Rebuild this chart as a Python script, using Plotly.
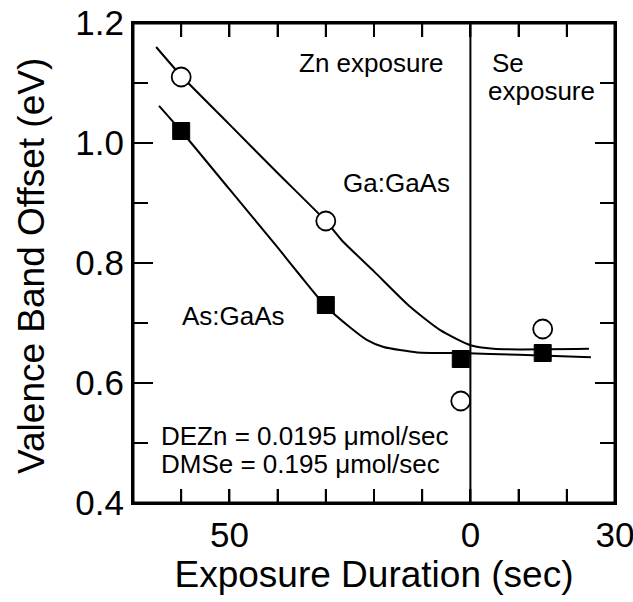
import plotly.graph_objects as go

# Measured data (x < 0 : Zn exposure, plotted reversed; x > 0 : Se exposure)
ga_x = [-60, -30, -2, 15]
ga_y = [1.11, 0.87, 0.57, 0.69]
as_x = [-60, -30, -2, 15]
as_y = [1.02, 0.73, 0.64, 0.65]

# Fit curves
ga_fit_x = [-65.2, -60, -50, -40, -30, -26.7, -20, -12.5, -6.25, 0, 4.8, 10, 24.6]
ga_fit_y = [1.16, 1.112, 1.031, 0.95, 0.87, 0.838, 0.786, 0.727, 0.688, 0.663, 0.657, 0.656, 0.657]
as_fit_x = [-64.6, -60, -50, -40, -35.4, -30, -25, -21.5, -18, -11, -2, 10, 25]
as_fit_y = [1.062, 1.02, 0.923, 0.826, 0.78, 0.728, 0.693, 0.672, 0.66, 0.651, 0.65, 0.647, 0.643]

x_tickvals = [-70, -60, -50, -40, -30, -20, -10, 0, 10, 20, 30]
x_ticktext = ["", "", "50", "", "", "", "", "0", "", "", "30"]
y_major = [0.4, 0.6, 0.8, 1.0, 1.2]
y_minor = [0.5, 0.7, 0.9, 1.1]
y_ticktext = ["0.4", "0.6", "0.8", "1.0", "1.2"]
x_range = [-70, 30]
y_range = [0.4, 1.2]

FONT = "Liberation Sans, Arial, sans-serif"
W, H = 633, 602
ML, MR, MT, MB = 133, 18, 23, 99
PW, PH = W - ML - MR, H - MT - MB
xu = (x_range[1] - x_range[0]) / PW   # data units per pixel
yu = (y_range[1] - y_range[0]) / PH

fig = go.Figure()

# Frame and inside ticks drawn as a line trace (built from the tick lists)
fx, fy = [], []
for v in x_tickvals:
    fx += [v, v, None, v, v, None]
    fy += [y_range[0], y_range[0] + 14 * yu, None, y_range[1], y_range[1] - 14 * yu, None]
for vals, ln in ((y_major, 20), (y_minor, 15)):
    for v in vals:
        fx += [x_range[0], x_range[0] + ln * xu, None, x_range[1], x_range[1] - ln * xu, None]
        fy += [v, v, None, v, v, None]
fig.add_trace(go.Scatter(x=fx, y=fy, mode="lines", line=dict(color="black", width=2),
                         showlegend=False, hoverinfo="skip", connectgaps=False))
fig.add_trace(go.Scatter(x=[x_range[0], x_range[1], x_range[1], x_range[0], x_range[0]],
                         y=[y_range[0], y_range[0], y_range[1], y_range[1], y_range[0]],
                         mode="lines", line=dict(color="black", width=3),
                         showlegend=False, hoverinfo="skip"))

fig.add_trace(go.Scatter(x=ga_fit_x, y=ga_fit_y, mode="lines",
                         line=dict(color="black", width=2, shape="spline", smoothing=0.6),
                         showlegend=False, hoverinfo="skip"))
fig.add_trace(go.Scatter(x=as_fit_x, y=as_fit_y, mode="lines",
                         line=dict(color="black", width=2, shape="spline", smoothing=0.6),
                         showlegend=False, hoverinfo="skip"))
fig.add_trace(go.Scatter(x=ga_x, y=ga_y, mode="markers", name="Ga:GaAs",
                         marker=dict(symbol="circle", size=19, color="white",
                                     line=dict(color="black", width=1.8)),
                         showlegend=False))
fig.add_trace(go.Scatter(x=as_x, y=as_y, mode="markers", name="As:GaAs",
                         marker=dict(symbol="square", size=17, color="black",
                                     line=dict(color="black", width=1)),
                         showlegend=False))

# Vertical divider at t = 0
fig.add_shape(type="line", x0=0, x1=0, y0=0, y1=1, xref="x", yref="paper",
              line=dict(color="black", width=2))

ann_font = dict(family=FONT, size=26, color="black")
fig.add_annotation(x=-20.5, y=1.133, text="Zn exposure", showarrow=False, font=ann_font,
                   xanchor="center", yanchor="middle")
fig.add_annotation(x=4.0, y=1.133, text="Se", showarrow=False, font=ann_font,
                   xanchor="left", yanchor="middle")
fig.add_annotation(x=3.3, y=1.087, text="exposure", showarrow=False, font=ann_font,
                   xanchor="left", yanchor="middle")
fig.add_annotation(x=-26.8, y=0.933, text="Ga:GaAs", showarrow=False, font=ann_font,
                   xanchor="left", yanchor="middle")
fig.add_annotation(x=-60.3, y=0.712, text="As:GaAs", showarrow=False, font=ann_font,
                   xanchor="left", yanchor="middle")
fig.add_annotation(x=-64.6, y=0.512, text="DEZn = 0.0195 \u03bcmol/sec", showarrow=False,
                   font=ann_font, xanchor="left", yanchor="middle")
fig.add_annotation(x=-64.6, y=0.465, text="DMSe = 0.195 \u03bcmol/sec", showarrow=False,
                   font=ann_font, xanchor="left", yanchor="middle")

# Y-axis title (placed as rotated text to match the reference position)
fig.add_annotation(xref="paper", yref="paper", x=-0.2095, y=0.494,
                   text="Valence Band Offset (eV)", textangle=-90, showarrow=False,
                   xanchor="center", yanchor="middle",
                   font=dict(family=FONT, size=37, color="black"))

fig.update_layout(
    template="none",
    width=W, height=H,
    margin=dict(l=ML, r=MR, t=MT, b=MB, pad=0),
    paper_bgcolor="white", plot_bgcolor="white",
    font=dict(family=FONT, color="black"),
    xaxis=dict(range=x_range, tickmode="array", tickvals=x_tickvals, ticktext=x_ticktext,
               ticks="inside", ticklen=14, tickwidth=2, tickcolor="black",
               ticklabeloverflow="allow", automargin=False,
               showline=True, linecolor="black", linewidth=2, mirror="ticks",
               showgrid=False, zeroline=False,
               tickfont=dict(family=FONT, size=35, color="black"),
               title=dict(text="Exposure Duration (sec)", standoff=4,
                          font=dict(family=FONT, size=37, color="black"))),
    yaxis=dict(range=y_range, tickmode="array", tickvals=y_major, ticktext=y_ticktext,
               ticks="inside", ticklen=20, tickwidth=2, tickcolor="black", automargin=False,
               showline=True, linecolor="black", linewidth=2, mirror="ticks",
               showgrid=False, zeroline=False,
               tickfont=dict(family=FONT, size=35, color="black")),
)

fig.write_html("out.html")
